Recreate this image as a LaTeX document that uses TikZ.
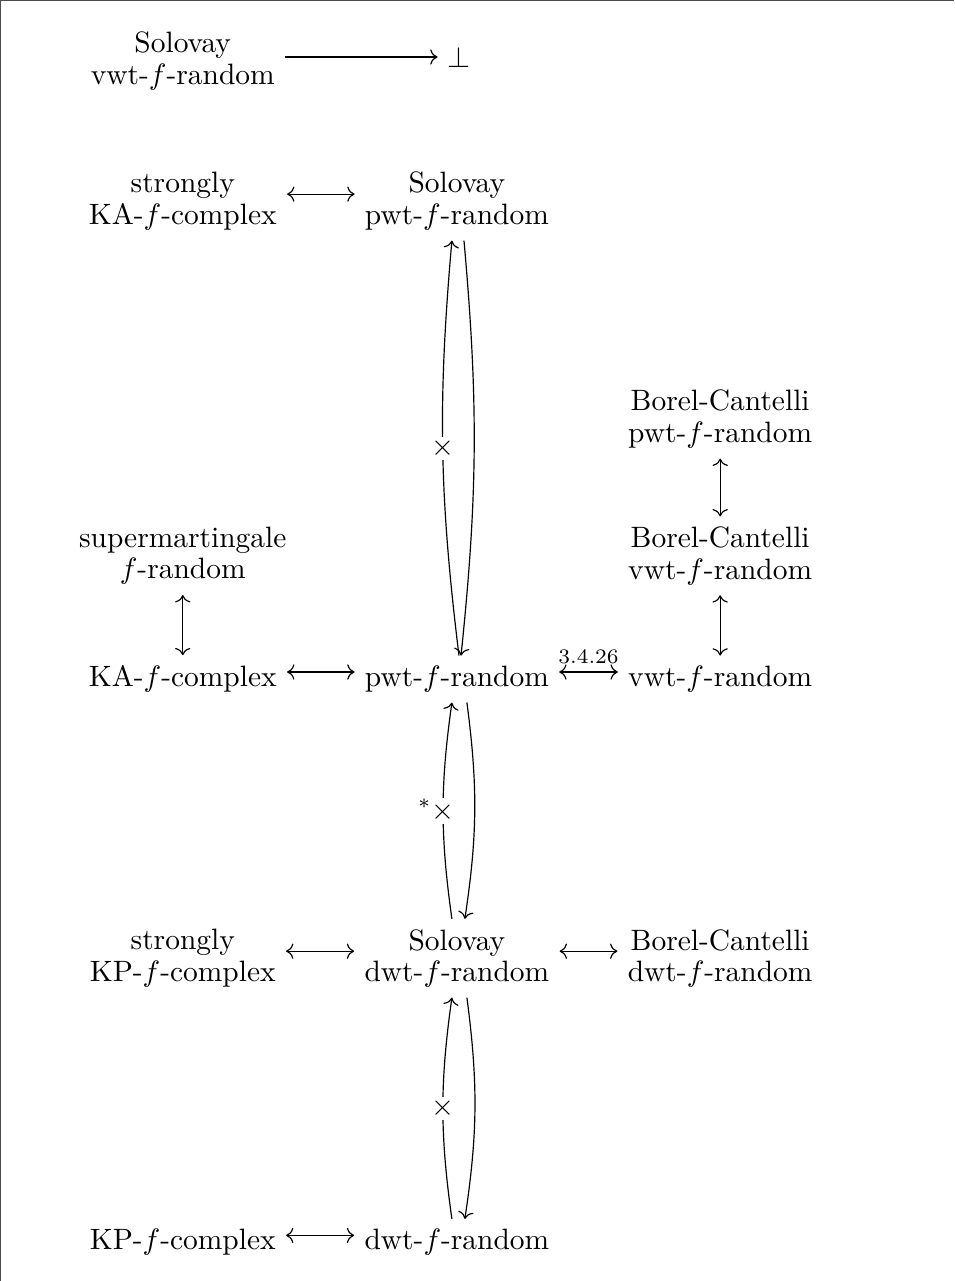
\documentclass[tikz,border=0pt]{standalone}
\usepackage{amsmath}
\usetikzlibrary{arrows,cd}

\begin{document}
\begin{tikzpicture}[>={cm to},auto,
    rand node/.style={align=center,font=\fontsize{10pt}{10.7pt}\selectfont},
    cross/.style={fill=white,inner sep=0.6pt,anchor=center}]

  \useasboundingbox (0,0) rectangle (11.38,-15.28);
  \draw[black!70,line width=0.4pt] (11.38,-0.2pt) -- (0.2pt,-0.2pt) -- (0.2pt,-15.28);

  % left column
  \node[rand node] (solvwt) at (2.18,-0.73) {Solovay\\vwt-$f$-random};
  \node[rand node] (strka) at (2.18,-2.40) {strongly\\KA-$f$-complex};
  \node[rand node] (supmart) at (2.18,-6.63) {supermartingale\\$f$-random};
  \node[rand node] (ka) at (2.18,-8.10) {KA-$f$-complex};
  \node[rand node] (strkp) at (2.18,-11.43) {strongly\\KP-$f$-complex};
  \node[rand node] (kp) at (2.18,-14.82) {KP-$f$-complex};

  % middle column
  \node (bot) at (5.48,-0.68) {$\bot$};
  \node[rand node] (solpwt) at (5.45,-2.40) {Solovay\\pwt-$f$-random};
  \node[rand node] (pwt) at (5.45,-8.10) {pwt-$f$-random};
  \node[rand node] (soldwt) at (5.45,-11.43) {Solovay\\dwt-$f$-random};
  \node[rand node] (dwt) at (5.45,-14.82) {dwt-$f$-random};

  % right column
  \node[rand node] (bcpwt) at (8.59,-5.00) {Borel-Cantelli\\pwt-$f$-random};
  \node[rand node] (bcvwt) at (8.59,-6.63) {Borel-Cantelli\\vwt-$f$-random};
  \node[rand node] (vwt) at (8.59,-8.10) {vwt-$f$-random};
  \node[rand node] (bcdwt) at (8.59,-11.43) {Borel-Cantelli\\dwt-$f$-random};

  % horizontal arrows
  \draw[->] (solvwt.east |- bot.west) -- (bot.west);
  \draw[<->] ([yshift=2.4pt]strka.east) -- ([yshift=2.4pt]solpwt.west);
  \draw[<->] ([yshift=2.4pt]ka.east) -- ([yshift=2.4pt]pwt.west);
  \draw[<->] ([yshift=2.4pt]pwt.east) -- node[font=\scriptsize,inner sep=2.5pt] {3.4.26} ([yshift=2.4pt]vwt.west);
  \draw[<->] ([yshift=2.4pt]strkp.east) -- ([yshift=2.4pt]soldwt.west);
  \draw[<->] ([yshift=2.4pt]soldwt.east) -- ([yshift=2.4pt]bcdwt.west);
  \draw[<->] ([yshift=2.4pt]kp.east) -- ([yshift=2.4pt]dwt.west);

  % vertical arrows
  \draw[<->] (supmart) -- (ka);
  \draw[<->] (bcpwt) -- (bcvwt);
  \draw[<->] (bcvwt) -- (vwt);

  % curved arrows in the middle
  \draw[->] ([xshift=0.7pt]pwt.north) to[bend left=6] node[cross] {$\times$} ([xshift=-1.7pt]solpwt.south);
  \draw[->] ([xshift=2.4pt]solpwt.south) to[bend left=5.5] ([xshift=1.4pt]pwt.north);
  \draw[->] ([xshift=-1.7pt]soldwt.north) to[bend left=8] node[cross] {\llap{$^{*}$}$\times$} ([xshift=-1.7pt]pwt.south);
  \draw[->] ([xshift=3.4pt]pwt.south) to[bend left=8] ([xshift=2.7pt]soldwt.north);
  \draw[->] ([xshift=-1.7pt]dwt.north) to[bend left=8] node[cross] {$\times$} ([xshift=-1.7pt]soldwt.south);
  \draw[->] ([xshift=3.4pt]soldwt.south) to[bend left=8] ([xshift=2.7pt]dwt.north);

\end{tikzpicture}
\end{document}
